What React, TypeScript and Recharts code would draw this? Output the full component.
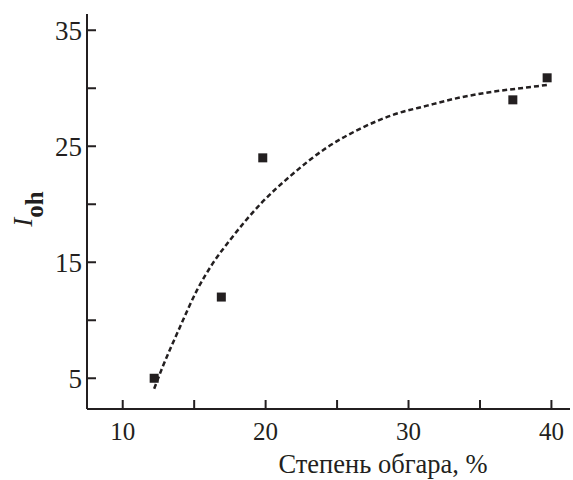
import { ComposedChart, Line, Scatter, XAxis, YAxis } from 'recharts';

// measured points
const obgar = [12.2, 16.9, 19.8, 37.3, 39.7];
const ioh = [5.0, 12.0, 24.0, 29.0, 30.9];

// fitted curve
const fitX = [12.2, 12.8, 14.0, 15.2, 16.3, 17.5, 19.7, 21.7, 24.3, 26.6, 28.9, 31.3, 33.6, 35.9, 38.25, 39.8];
const fitY = [4.1, 6.0, 9.4, 12.6, 14.9, 16.9, 20.1, 22.4, 24.9, 26.5, 27.7, 28.5, 29.2, 29.7, 30.06, 30.3];

const xTicks = [10, 15, 20, 25, 30, 35, 40];
const yTicks = [5, 10, 15, 20, 25, 30, 35];

const points = obgar.map((x, i) => ({ x, y: ioh[i] }));
const curve = fitX.map((x, i) => ({ x, y: fitY[i] }));

const FONT = '"Liberation Serif", "Times New Roman", serif';
const INK = '#231f20';

const XTick = ({ x, y, payload }: any) => (
  <g>
    <line x1={x} y1={y} x2={x} y2={y - 9} stroke={INK} strokeWidth={2} />
    {payload.value % 10 === 0 && (
      <text x={x} y={y + 31} textAnchor="middle" fontFamily={FONT} fontSize={25} fill={INK}>
        {payload.value}
      </text>
    )}
  </g>
);

const YTick = ({ x, y, payload }: any) => (
  <g>
    <line x1={x} y1={y} x2={x + 9} y2={y} stroke={INK} strokeWidth={2} />
    {payload.value % 10 === 5 && (
      <text x={x - 5} y={y + 10} textAnchor="end" fontFamily={FONT} fontSize={27} fill={INK}>
        {payload.value}
      </text>
    )}
  </g>
);

const Square = ({ cx, cy }: any) => (
  <rect x={cx - 4.5} y={cy - 4.5} width={9} height={9} fill={INK} />
);

const XTitle = () => (
  <text x={383} y={473} textAnchor="middle" fontFamily={FONT} fontSize={26.5} fill={INK}>
    Степень обгара, %
  </text>
);

const YTitle = () => (
  <text
    x={32}
    y={209}
    textAnchor="middle"
    transform="rotate(-90, 32, 209)"
    fontFamily={FONT}
    fill={INK}
  >
    <tspan fontStyle="italic" fontSize={27}>I</tspan>
    <tspan fontWeight="bold" fontSize={25} dy={11}>oh</tspan>
  </text>
);

export default function App() {
  return (
    <div style={{ position: 'absolute', left: 0, top: 0, background: '#fff' }}>
      <ComposedChart width={573} height={480} margin={{ top: 14, right: 3, left: 0, bottom: 0 }}>
        <XAxis
          type="number"
          dataKey="x"
          domain={[7.5, 41.3]}
          ticks={xTicks}
          allowDataOverflow
          height={71}
          tickSize={0}
          tickMargin={0}
          tickLine={false}
          axisLine={{ stroke: INK, strokeWidth: 2 }}
          tick={<XTick />}
          interval={0}
          label={{ content: <XTitle /> }}
        />
        <YAxis
          type="number"
          dataKey="y"
          domain={[2.35, 36.4]}
          ticks={yTicks}
          allowDataOverflow
          width={87}
          tickSize={0}
          tickMargin={0}
          tickLine={false}
          axisLine={{ stroke: INK, strokeWidth: 2 }}
          tick={<YTick />}
          interval={0}
          label={{ content: <YTitle /> }}
        />
        <Line
          data={curve}
          dataKey="y"
          type="monotone"
          stroke={INK}
          strokeWidth={2.5}
          strokeDasharray="5 3"
          dot={false}
          activeDot={false}
          isAnimationActive={false}
        />
        <Scatter data={points} dataKey="y" shape={<Square />} isAnimationActive={false} />
      </ComposedChart>
    </div>
  );
}
